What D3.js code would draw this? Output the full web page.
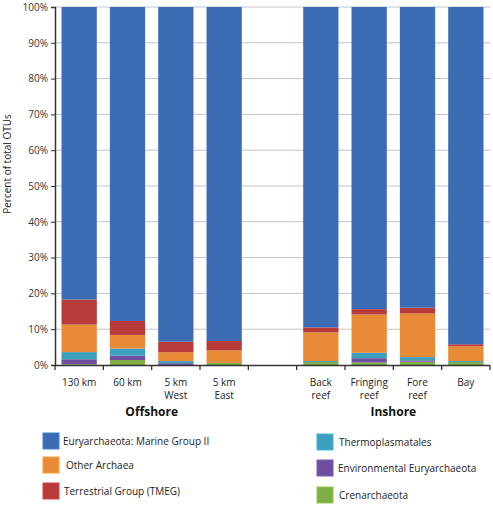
<!DOCTYPE html>
<html><head><meta charset="utf-8">
<script src="https://cdn.jsdelivr.net/npm/d3@7"></script>
<style>
body{margin:0;background:#fff;}
svg{font-family:"Open Sans",sans-serif;}
</style></head>
<body><svg id="c" width="493" height="510"></svg>
<script>
const categories = ["130 km","60 km","5 km West","5 km East","","Back reef","Fringing reef","Fore reef","Bay"];
const labelLines = [["130 km"],["60 km"],["5 km","West"],["5 km","East"],[],["Back","reef"],["Fringing","reef"],["Fore","reef"],["Bay"]];
const seriesNames = ["Crenarchaeota","Environmental Euryarchaeota","Thermoplasmatales","Other Archaea","Terrestrial Group (TMEG)","Euryarchaeota: Marine Group II"];
const crenarchaeota = [0.2,1.4,0,0.6,null,0.8,0.7,0.9,0.8];
const envEuryarchaeota = [1.4,1.2,0.5,0,null,0,1.2,0.4,0];
const thermoplasmatales = [2.0,2.0,0.6,0,null,0.3,1.5,0.9,0.3];
const otherArchaea = [7.7,3.8,2.5,3.5,null,8.0,10.7,12.2,4.1];
const terrestrial = [7.0,3.9,2.9,2.6,null,1.4,1.5,1.6,0.6];
const marineGroupII = [81.7,87.7,93.5,93.3,null,89.5,84.4,84.0,94.2];
const yTicks = [0,10,20,30,40,50,60,70,80,90,100];
const groups = [{name:"Offshore", from:0, to:3},{name:"Inshore", from:5, to:8}];
const legendLeft = ["Euryarchaeota: Marine Group II","Other Archaea","Terrestrial Group (TMEG)"];
const legendRight = ["Thermoplasmatales","Environmental Euryarchaeota","Crenarchaeota"];
const colors = {"Euryarchaeota: Marine Group II":"#3c6db4","Other Archaea":"#e98a36","Terrestrial Group (TMEG)":"#b83b3a","Thermoplasmatales":"#3b9fbd","Environmental Euryarchaeota":"#6e4e9e","Crenarchaeota":"#7eae45"};

const seriesArrays = [crenarchaeota,envEuryarchaeota,thermoplasmatales,otherArchaea,terrestrial,marineGroupII];
const rows = categories.map((c,i)=>{const r={cat:c,idx:i};seriesNames.forEach((s,j)=>r[s]=seriesArrays[j][i]||0);return r;});

const svg = d3.select("#c");
const m = {l:55, r:3, t:7, b:145};
const W = 493, H = 510;
const x = d3.scaleBand().domain(d3.range(categories.length)).range([m.l, W-m.r]).paddingInner(0.27).paddingOuter(0.135);
const y = d3.scaleLinear().domain([0,100]).range([365,7]);

// gridlines
svg.append("g").selectAll("line").data(yTicks.filter(t=>t>0)).join("line")
  .attr("x1",m.l).attr("x2",W-m.r).attr("y1",d=>y(d)).attr("y2",d=>y(d))
  .attr("stroke","#c4c4c4").attr("stroke-width",1);

const stack = d3.stack().keys(seriesNames)(rows.filter(r=>r.cat!==""));
svg.append("g").selectAll("g").data(stack).join("g")
  .attr("fill",d=>colors[d.key])
  .selectAll("rect").data(d=>d).join("rect")
  .attr("x",d=>x(d.data.idx)).attr("width",x.bandwidth())
  .attr("y",d=>y(d[1])).attr("height",d=>Math.max(0,y(d[0])-y(d[1])));

// y axis
const ya = svg.append("g").attr("transform",`translate(${m.l},0)`)
  .call(d3.axisLeft(y).tickValues(yTicks).tickFormat(d=>d+"%").tickSize(4).tickPadding(3));
ya.select(".domain").attr("stroke","#333").attr("stroke-width",1.5);
ya.selectAll(".tick line").attr("stroke","#333");
ya.selectAll("text").attr("font-size",10).attr("fill","#333").attr("font-family","Open Sans");

// x axis with ticks at band boundaries
const bounds = d3.range(categories.length+1).map(i=>m.l + i*(W-m.r-m.l)/categories.length);
svg.append("line").attr("x1",m.l).attr("x2",W-m.r).attr("y1",365.5).attr("y2",365.5).attr("stroke","#333").attr("stroke-width",1.5);
svg.append("g").selectAll("line").data(bounds).join("line")
  .attr("x1",d=>d).attr("x2",d=>d).attr("y1",365).attr("y2",370).attr("stroke","#333").attr("stroke-width",1.3);

// x labels
const xl = svg.append("g").selectAll("text").data(labelLines.map((l,i)=>({l,i}))).join("text")
  .attr("x",d=>x(d.i)+x.bandwidth()/2).attr("y",386).attr("text-anchor","middle")
  .attr("font-size",10).attr("fill","#222");
xl.selectAll("tspan").data(d=>d.l.map((t,k)=>({t,k,x:x(d.i)+x.bandwidth()/2}))).join("tspan")
  .attr("x",d=>d.x).attr("dy",d=>d.k===0?0:13).text(d=>d.t);

// group labels
svg.append("g").selectAll("text").data(groups).join("text")
  .attr("x",d=>(x(d.from)+x(d.to)+x.bandwidth())/2).attr("y",416).attr("text-anchor","middle")
  .attr("font-size",12).attr("font-weight","bold").attr("fill","#111").text(d=>d.name);

// y title
svg.append("text").attr("transform","translate(11,164) rotate(-90)").attr("text-anchor","middle")
  .attr("font-size",10).attr("fill","#222").text("Percent of total OTUs");

// legend
const legL = [{k:legendLeft[0],y:433,tx:63},{k:legendLeft[1],y:457,tx:66},{k:legendLeft[2],y:483,tx:64}];
const legR = [{k:legendRight[0],y:434,tx:339},{k:legendRight[1],y:460,tx:338},{k:legendRight[2],y:487,tx:339}];
const lg = svg.append("g");
legL.forEach(d=>{d.sx=43;}); legR.forEach(d=>{d.sx=317;});
const items = legL.concat(legR);
lg.selectAll("rect").data(items).join("rect")
  .attr("x",d=>d.sx).attr("y",d=>d.y).attr("width",16).attr("height",16)
  .attr("fill",d=>colors[d.k]).attr("stroke",d=>d3.color(colors[d.k]).brighter(0.4)).attr("stroke-width",1);
lg.selectAll("text").data(items).join("text")
  .attr("x",d=>d.tx).attr("y",d=>d.y+12).attr("font-size",10).attr("fill","#222").text(d=>d.k);
</script></body></html>
